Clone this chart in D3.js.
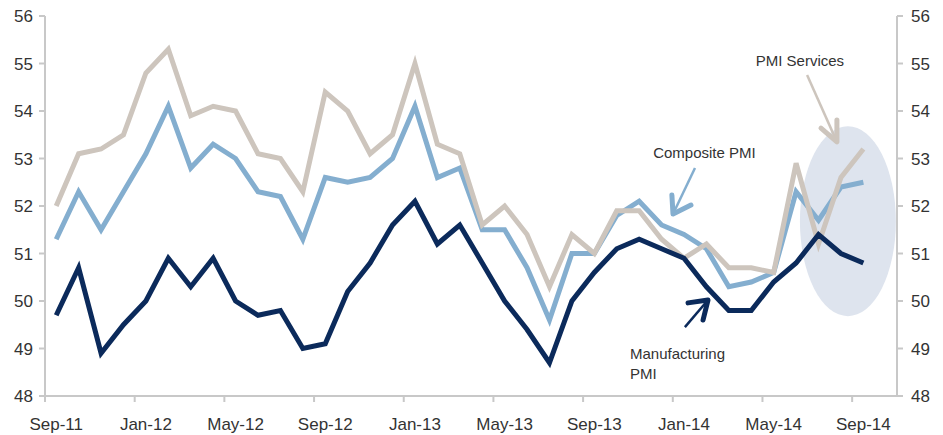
<!DOCTYPE html>
<html>
<head>
<meta charset="utf-8">
<script src="https://cdn.jsdelivr.net/npm/d3@7"></script>
<style>
  body { margin: 0; background: #fff; }
  text { font-family: "Liberation Sans", Arial, sans-serif; fill: #333; }
</style>
</head>
<body>
<div id="chart"></div>
<script>
/* DATA */
// monthly categories, the last one (Oct-14) is an empty slot at the right edge
const months = ["Sep-11","Oct-11","Nov-11","Dec-11","Jan-12","Feb-12","Mar-12","Apr-12","May-12","Jun-12","Jul-12","Aug-12",
  "Sep-12","Oct-12","Nov-12","Dec-12","Jan-13","Feb-13","Mar-13","Apr-13","May-13","Jun-13","Jul-13","Aug-13",
  "Sep-13","Oct-13","Nov-13","Dec-13","Jan-14","Feb-14","Mar-14","Apr-14","May-14","Jun-14","Jul-14","Aug-14",
  "Sep-14","Oct-14"];

const manufacturing = [49.7,50.7,48.9,49.5,50.0,50.9,50.3,50.9,50.0,49.7,49.8,49.0,
  49.1,50.2,50.8,51.6,52.1,51.2,51.6,50.8,50.0,49.4,48.7,50.0,
  50.6,51.1,51.3,51.1,50.9,50.3,49.8,49.8,50.4,50.8,51.4,51.0,50.8];

const composite = [51.3,52.3,51.5,52.3,53.1,54.1,52.8,53.3,53.0,52.3,52.2,51.3,
  52.6,52.5,52.6,53.0,54.1,52.6,52.8,51.5,51.5,50.7,49.6,51.0,
  51.0,51.8,52.1,51.6,51.4,51.1,50.3,50.4,50.6,52.3,51.7,52.4,52.5];

const services = [52.0,53.1,53.2,53.5,54.8,55.3,53.9,54.1,54.0,53.1,53.0,52.3,
  54.4,54.0,53.1,53.5,55.0,53.3,53.1,51.6,52.0,51.4,50.3,51.4,
  51.0,51.9,51.9,51.3,50.9,51.2,50.7,50.7,50.6,52.9,51.2,52.6,53.2];

const yTicks = [48,49,50,51,52,53,54,55,56];
const xTickLabels = ["Sep-11","Jan-12","May-12","Sep-12","Jan-13","May-13","Sep-13","Jan-14","May-14","Sep-14"];

/* CONSTANTS */
const width = 943, height = 435;
const margin = { top: 16, bottom: 39, left: 45, right: 46 };
const colors = { manufacturing: "#0b2a5b", composite: "#84aecf", services: "#cdc5bd", axis: "#c8c8c8" };

const svg = d3.select("#chart").append("svg")
  .attr("width", width)
  .attr("height", height);

// SCALES
const xScale = d3.scaleBand()
  .domain(months)
  .range([margin.left, width - margin.right])
  .paddingInner(0).paddingOuter(0);

const bw = xScale.bandwidth();
// fractional category index -> pixel (category centre)
const xi = i => margin.left + bw * (i + 0.5);

const yScale = d3.scaleLinear()
  .domain([48, 56])
  .range([height - margin.bottom, margin.top]);

// highlight ellipse (behind the lines)
svg.append("ellipse")
  .attr("cx", xi(35.31))
  .attr("cy", yScale(51.68))
  .attr("rx", bw * 2.14)
  .attr("ry", yScale(49.68) - yScale(51.68))
  .attr("fill", "#dee4ee");

// AXES
const axisG = svg.append("g")
  .attr("stroke", colors.axis)
  .attr("stroke-width", 2);

axisG.append("line")
  .attr("x1", margin.left).attr("x2", margin.left)
  .attr("y1", yScale(56)).attr("y2", yScale(48));
axisG.append("line")
  .attr("x1", width - margin.right).attr("x2", width - margin.right)
  .attr("y1", yScale(56)).attr("y2", yScale(48));
axisG.append("line")
  .attr("x1", margin.left).attr("x2", width - margin.right)
  .attr("y1", yScale(48)).attr("y2", yScale(48));

// y ticks, both sides
axisG.selectAll(".ytl").data(yTicks).join("line")
  .attr("x1", margin.left - 6).attr("x2", margin.left)
  .attr("y1", d => yScale(d)).attr("y2", d => yScale(d));
axisG.selectAll(".ytr").data(yTicks).join("line")
  .attr("class", "ytr")
  .attr("x1", width - margin.right).attr("x2", width - margin.right + 6)
  .attr("y1", d => yScale(d)).attr("y2", d => yScale(d));

svg.selectAll(".ylabL").data(yTicks).join("text")
  .attr("class", "ylabL")
  .attr("x", margin.left - 12)
  .attr("y", d => yScale(d) + 6)
  .attr("text-anchor", "end")
  .style("font-size", "17px")
  .text(d => d);

svg.selectAll(".ylabR").data(yTicks).join("text")
  .attr("class", "ylabR")
  .attr("x", width - margin.right + 14)
  .attr("y", d => yScale(d) + 6)
  .attr("text-anchor", "start")
  .style("font-size", "17px")
  .text(d => d);

// x ticks at category boundaries, labels centred on categories
axisG.selectAll(".xt").data(xTickLabels).join("line")
  .attr("class", "xt")
  .attr("x1", d => xScale(d)).attr("x2", d => xScale(d))
  .attr("y1", yScale(48)).attr("y2", yScale(48) + 6);

svg.selectAll(".xlab").data(xTickLabels).join("text")
  .attr("class", "xlab")
  .attr("x", d => xScale(d) + bw / 2)
  .attr("y", height - 5)
  .attr("text-anchor", "middle")
  .style("font-size", "17px")
  .text(d => d);

// LINES
const line = d3.line()
  .x((d, i) => xScale(months[i]) + bw / 2)
  .y(d => yScale(d));

[["composite", composite], ["services", services], ["manufacturing", manufacturing]].forEach(([key, values]) => {
  svg.append("path")
    .datum(values)
    .attr("fill", "none")
    .attr("stroke", colors[key])
    .attr("stroke-width", 5)
    .attr("stroke-linejoin", "miter")
    .attr("d", line);
});

// ANNOTATIONS (in category index / value units)
const notes = [
  { key: "services", lines: ["PMI Services"], tx: 33.17, ty: 54.95, anchor: "middle",
    tail: [33.49, 54.76], tip: [34.82, 53.35], arms: [[34.11, 53.64], [34.82, 53.81]] },
  { key: "composite", lines: ["Composite PMI"], tx: 28.91, ty: 53.01, anchor: "middle",
    tail: [28.49, 52.80], tip: [27.51, 51.83], arms: [[27.46, 52.23], [28.31, 52.02]] },
  { key: "manufacturing", lines: ["Manufacturing", "PMI"], tx: 25.59, ty: 48.78, anchor: "start",
    tail: [28.04, 49.45], tip: [29.07, 50.02], arms: [[28.18, 49.96], [28.85, 49.60]] }
];

notes.forEach(n => {
  const t = svg.append("text")
    .attr("x", xi(n.tx))
    .attr("y", yScale(n.ty))
    .attr("text-anchor", n.anchor)
    .style("font-size", "15px");
  n.lines.forEach((s, k) => {
    t.append("tspan").attr("x", xi(n.tx)).attr("dy", k === 0 ? 0 : 20).text(s);
  });

  svg.append("line")
    .attr("x1", xi(n.tail[0])).attr("y1", yScale(n.tail[1]))
    .attr("x2", xi(n.tip[0])).attr("y2", yScale(n.tip[1]))
    .attr("stroke", colors[n.key])
    .attr("stroke-width", 2.5);

  svg.append("path")
    .attr("d", d3.line()([
      [xi(n.arms[0][0]), yScale(n.arms[0][1])],
      [xi(n.tip[0]), yScale(n.tip[1])],
      [xi(n.arms[1][0]), yScale(n.arms[1][1])]
    ]))
    .attr("fill", "none")
    .attr("stroke", colors[n.key])
    .attr("stroke-width", 5)
    .attr("stroke-linecap", "round")
    .attr("stroke-linejoin", "round");
});
</script>
</body>
</html>
